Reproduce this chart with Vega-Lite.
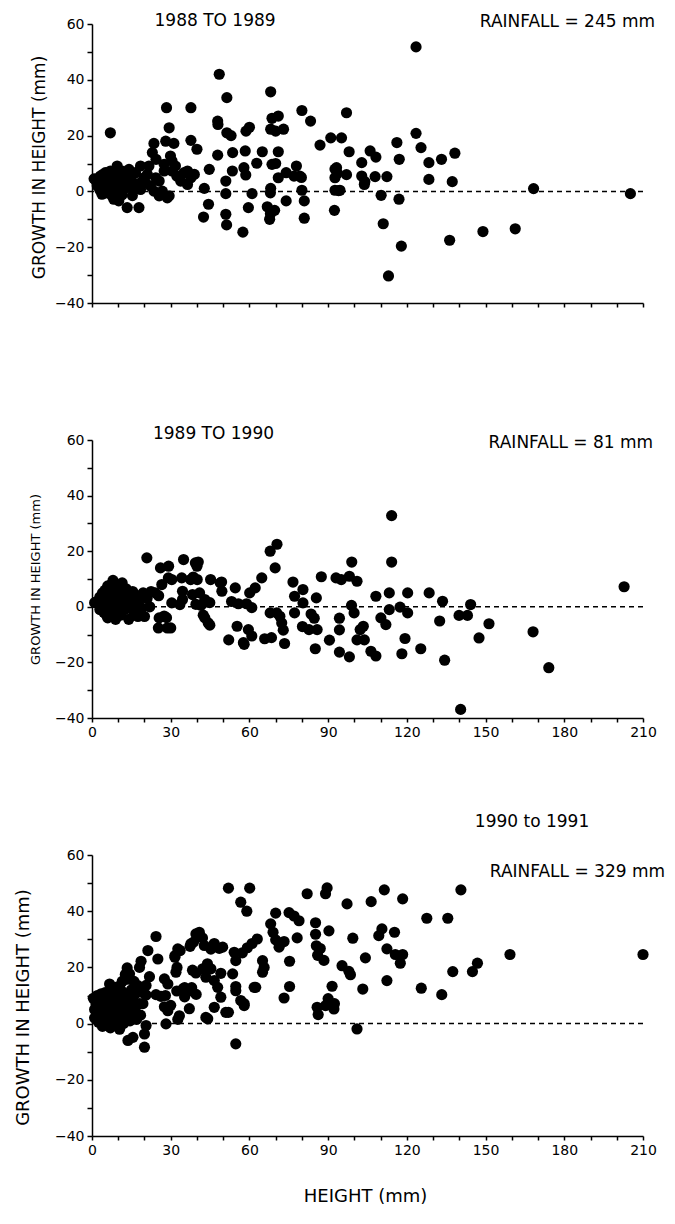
{
  "$schema": "https://vega.github.io/schema/vega-lite/v6.json",
  "padding": {"left": 14, "top": 11, "right": 5, "bottom": 5},
  "bounds": "flush",
  "spacing": 137,
  "config": {
    "view": {"stroke": null},
    "font": "DejaVu Sans",
    "axis": {"domainColor": "black", "domainWidth": 1.5, "tickColor": "black", "tickWidth": 1.5, "tickSize": 5, "labelColor": "black", "titleColor": "black", "labelFont": "DejaVu Sans", "titleFont": "DejaVu Sans", "titleFontWeight": "normal", "grid": false, "labelFontSize": 14, "labelFlush": false, "labelBound": false, "labelOverlap": false},
    "text": {"font": "DejaVu Sans", "fontSize": 17, "color": "black", "align": "center", "baseline": "middle"}
  },
  "datasets": {
    "p1": [
      {"h":0.8,"g":4.5},{"h":1.3,"g":4.3},{"h":1.9,"g":3.1},{"h":2,"g":2},{"h":2.5,"g":4},{"h":3,"g":0.5},{"h":3.2,"g":5.5},{"h":3.8,"g":0},{"h":3.8,"g":-1},{"h":4,"g":6},{"h":4.5,"g":2.5},{"h":5,"g":3},{"h":5.1,"g":6.7},{"h":5.5,"g":5},{"h":5.7,"g":-0.5},{"h":6,"g":5},{"h":6.4,"g":3.7},{"h":6.4,"g":1.3},{"h":7,"g":7.3},{"h":7,"g":21},{"h":7.5,"g":2},{"h":7.6,"g":-1.5},{"h":8,"g":6},{"h":8.3,"g":4.9},{"h":8.3,"g":-2.8},{"h":9,"g":4},{"h":9.6,"g":9.1},{"h":9.6,"g":0.7},{"h":10.2,"g":3.1},{"h":10.2,"g":-3.4},{"h":10.5,"g":5.5},{"h":11,"g":2},{"h":11.5,"g":7.3},{"h":11.5,"g":-1.2},{"h":12.1,"g":4.9},{"h":12.8,"g":1.3},{"h":13,"g":5.5},{"h":13.4,"g":-5.8},{"h":14,"g":3.7},{"h":14.1,"g":7.9},{"h":15,"g":4},{"h":15.4,"g":-1.5},{"h":16,"g":1.3},{"h":16.6,"g":6.7},{"h":17,"g":2.5},{"h":17.9,"g":-5.8},{"h":18.5,"g":9.1},{"h":18.5,"g":3.1},{"h":18.5,"g":0.7},{"h":19.8,"g":4.9},{"h":20.4,"g":3.1},{"h":21.1,"g":6.1},{"h":21.7,"g":9.1},{"h":22.3,"g":1.9},{"h":23,"g":13.9},{"h":23.6,"g":17.2},{"h":23.6,"g":0.1},{"h":24.3,"g":4.9},{"h":24.4,"g":11.5},{"h":25.6,"g":3.7},{"h":25.6,"g":-1.6},{"h":26.8,"g":0.1},{"h":27.5,"g":7.3},{"h":27.5,"g":9.7},{"h":28.1,"g":18},{"h":28.4,"g":30},{"h":28.7,"g":-2.3},{"h":29.4,"g":22.8},{"h":29.4,"g":-1.6},{"h":29.9,"g":12.7},{"h":30.5,"g":10.9},{"h":30.5,"g":7.3},{"h":31.2,"g":17.2},{"h":31.8,"g":9.1},{"h":32.3,"g":5.5},{"h":33.8,"g":3.7},{"h":35.1,"g":6.7},{"h":36.4,"g":7.3},{"h":36.4,"g":2.5},{"h":37.7,"g":4.9},{"h":37.7,"g":30},{"h":37.7,"g":18.3},{"h":39,"g":6.1},{"h":40,"g":15.1},
      {"h":42.5,"g":-9.2},{"h":42.8,"g":1.1},{"h":44.4,"g":-4.6},{"h":44.7,"g":7.9},{"h":47.9,"g":25.2},{"h":48,"g":24},{"h":47.9,"g":13},{"h":48.5,"g":42},{"h":51.4,"g":33.6},{"h":51.4,"g":21},{"h":53,"g":20},{"h":53.6,"g":13.9},{"h":53.5,"g":7.3},{"h":51,"g":3.7},{"h":51,"g":-0.8},{"h":51,"g":-8.2},{"h":51.3,"g":-12},{"h":57.5,"g":-14.6},{"h":58.4,"g":14.5},{"h":58.7,"g":21.6},{"h":60,"g":23},{"h":57.9,"g":8.5},{"h":58.6,"g":5.9},{"h":61,"g":-0.8},{"h":59.6,"g":-5.8},{"h":62.8,"g":10.1},{"h":64.9,"g":14.2},{"h":68.1,"g":35.7},{"h":68.6,"g":26.2},{"h":71,"g":27},{"h":68.1,"g":22.3},{"h":70,"g":21.6},{"h":73,"g":22.3},{"h":71,"g":14.2},{"h":68.6,"g":9.7},{"h":70,"g":10},{"h":71,"g":4.9},{"h":68.1,"g":1.1},{"h":68,"g":-0.5},{"h":66.8,"g":-5.5},{"h":69.6,"g":-6.8},{"h":67.7,"g":-10},{"h":68,"g":-8},{"h":74,"g":6.7},{"h":74,"g":-3.4},{"h":77,"g":5.5},{"h":77.9,"g":9.1},{"h":79.2,"g":5.5},{"h":79.8,"g":5},{"h":80,"g":0.4},{"h":80.9,"g":-3.4},{"h":80.9,"g":-9.6},{"h":80,"g":29},{"h":83.3,"g":25.2},{"h":86.9,"g":16.6},{"h":91,"g":19.2},{"h":92.6,"g":8},{"h":92.6,"g":4.9},{"h":92.6,"g":0.4},{"h":92.4,"g":-6.8},{"h":94,"g":0.3},{"h":93.5,"g":6.5},
      {"h":95.1,"g":19.2},{"h":97,"g":28.2},{"h":98,"g":14.2},{"h":93.2,"g":8.5},{"h":97,"g":6},{"h":94.5,"g":0.4},{"h":102.8,"g":10.3},{"h":102.8,"g":5.5},{"h":103.8,"g":2.5},{"h":104,"g":3.5},{"h":106,"g":14.5},{"h":108.2,"g":12.3},{"h":107.9,"g":5.3},{"h":112.4,"g":5.3},{"h":110.2,"g":-1.4},{"h":111,"g":-11.6},{"h":113,"g":-30.3},{"h":116.2,"g":17.5},{"h":117.1,"g":11.5},{"h":117,"g":-2.8},{"h":117.9,"g":-19.6},{"h":123.5,"g":51.8},{"h":123.5,"g":20.8},{"h":125.4,"g":15.7},{"h":128.4,"g":10.3},{"h":128.4,"g":4.3},{"h":133.2,"g":11.5},{"h":136.3,"g":-17.5},{"h":137.3,"g":3.5},{"h":138.3,"g":13.7},{"h":149,"g":-14.4},{"h":161.3,"g":-13.4},{"h":168.3,"g":1.0},{"h":205.2,"g":-0.8}
    ],
    "p2": [
      {"h":1,"g":1.5},{"h":2,"g":2},{"h":3,"g":3.5},{"h":3,"g":-1},{"h":3.5,"g":0.5},{"h":4,"g":5},{"h":4.5,"g":-2},{"h":5,"g":6},{"h":5,"g":2.5},{"h":5.5,"g":-3},{"h":6,"g":7.5},{"h":6,"g":-4},{"h":6.5,"g":0},{"h":6.5,"g":7.4},{"h":7,"g":4},{"h":7.5,"g":8},{"h":8,"g":-1.5},{"h":8,"g":9.5},{"h":8.5,"g":2},{"h":8.5,"g":8.6},{"h":9,"g":6},{"h":9,"g":-4.5},{"h":9.5,"g":3},{"h":10,"g":0},{"h":10.5,"g":5.5},{"h":11,"g":-3},{"h":11.5,"g":8.6},{"h":12,"g":2},{"h":12.5,"g":-1},{"h":13,"g":4.5},{"h":13,"g":6.5},{"h":14,"g":-4.5},{"h":14.5,"g":1},{"h":15,"g":3.5},{"h":15.5,"g":5.5},{"h":16,"g":-2},{"h":16.5,"g":0.5},{"h":17,"g":4},{"h":17.5,"g":-3.5},{"h":18,"g":2.5},{"h":19,"g":-0.5},{"h":19.5,"g":5},{"h":20,"g":-3.5},{"h":20.9,"g":17.6},{"h":21,"g":3},{"h":22,"g":0},{"h":22.5,"g":5.5},
      {"h":24.1,"g":5},{"h":25.4,"g":4},{"h":25.6,"g":-4},{"h":25.3,"g":-7.6},{"h":26.1,"g":14},{"h":26.6,"g":8},{"h":27.5,"g":-3.3},{"h":28.4,"g":-3.9},{"h":28.7,"g":-7.6},{"h":29.1,"g":10.4},{"h":29.2,"g":14.6},{"h":30,"g":-7.6},{"h":30.4,"g":9.8},{"h":30.4,"g":1.4},{"h":33.5,"g":0.8},{"h":34.2,"g":10.4},{"h":34.5,"g":5.6},{"h":34.5,"g":2.6},{"h":34.9,"g":17},{"h":37.6,"g":9.8},{"h":38.3,"g":4.4},{"h":38.6,"g":10.7},{"h":39.4,"g":15.8},{"h":39.6,"g":0.9},{"h":40,"g":14.6},{"h":40.1,"g":9.8},{"h":40.5,"g":16.1},{"h":41,"g":5},{"h":41.5,"g":0.5},{"h":42.4,"g":-3},{"h":43,"g":2.6},{"h":43,"g":-4},{"h":44.3,"g":-5.8},{"h":44.9,"g":-6.6},{"h":44.9,"g":1.5},{"h":45.2,"g":9.8},{"h":48.9,"g":8.6},{"h":49.5,"g":5.6},{"h":49.4,"g":8.9},{"h":53.2,"g":1.9},{"h":54.6,"g":6.8},{"h":55.3,"g":-7},{"h":55.8,"g":1.1},{"h":52.1,"g":-11.9},{"h":57.7,"g":-12.9},{"h":58.9,"g":1.1},{"h":58,"g":-13.5},{"h":59.6,"g":-8.2},{"h":60.1,"g":5},{"h":60.9,"g":-0.3},{"h":60.9,"g":-10.5},{"h":62.2,"g":6.8},{"h":64.7,"g":10.4},{"h":65.8,"g":-11.5},{"h":67.9,"g":20},{"h":68.4,"g":-11.1},{"h":67.9,"g":-2.2},{"h":69.8,"g":14},{"h":70.4,"g":-2.2},{"h":70.5,"g":22.5},{"h":71.6,"g":-3.4},{"h":72.3,"g":-5.8},{"h":72.9,"g":-8.4},{"h":73.4,"g":-13.2},{"h":76.6,"g":8.9},{"h":77.2,"g":3.8},{"h":77.2,"g":-2.2},{"h":80.4,"g":6.2},{"h":80.4,"g":1.4},{"h":80.2,"g":-7.1},{"h":82.7,"g":-8.2},{"h":83.5,"g":-2.6},{"h":84.7,"g":-4.1},{"h":85.1,"g":-15.1},{"h":85.5,"g":3.2},{"h":85.8,"g":-8.2},{"h":87.4,"g":10.8},{"h":90.5,"g":-12},{"h":93,"g":10.4},{"h":94.3,"g":-4.1},{"h":94.3,"g":-8.3},{"h":94.3,"g":-16.3},{"h":95,"g":9.8},{"h":98.1,"g":-18},{"h":98.1,"g":11},{"h":99,"g":16.1},{"h":98.9,"g":0.5},{"h":99.9,"g":-2.2},{"h":101,"g":9.2},{"h":101,"g":-11.9},{"h":102.2,"g":-8.2},{"h":103.4,"g":-7},{"h":103.8,"g":-11.9},{"h":106.3,"g":-16},{"h":108.2,"g":-17.7},{"h":108.2,"g":3.8},{"h":110.1,"g":-4},{"h":112,"g":-6.4},{"h":113.3,"g":5},{"h":113.3,"g":-1},{"h":114.2,"g":32.8},{"h":114.2,"g":16.1},{"h":117.4,"g":-0.1},{"h":118.1,"g":-16.9},{"h":119.3,"g":-11.4},{"h":120.3,"g":5},{"h":120.3,"g":-2.2},{"h":125.3,"g":-15.1},{"h":128.5,"g":5},{"h":132.5,"g":-5.1},{"h":133.6,"g":2},{"h":134.4,"g":-19.2},{"h":139.9,"g":-3.1},{"h":140.5,"g":-36.9},{"h":143.1,"g":-3.1},{"h":144.3,"g":0.8},{"h":147.5,"g":-11.2},{"h":151.3,"g":-6.1},{"h":168.1,"g":-9},{"h":174.1,"g":-21.9},{"h":202.8,"g":7.2}
    ],
    "p3": [
      {"h":0.5,"g":9},{"h":1,"g":5},{"h":1,"g":2},{"h":1.5,"g":7},{"h":2,"g":10},{"h":2,"g":3.5},{"h":2.3,"g":8.9},{"h":2.5,"g":0.5},{"h":3,"g":6},{"h":3,"g":1.5},{"h":3.5,"g":10.6},{"h":3.5,"g":4},{"h":4,"g":8},{"h":4,"g":-1},{"h":4.5,"g":2.5},{"h":5,"g":6.5},{"h":5,"g":11},{"h":5.5,"g":0},{"h":5.5,"g":4.5},{"h":6,"g":9},{"h":6.5,"g":2},{"h":6.7,"g":14.1},{"h":7,"g":6},{"h":7,"g":-1.5},{"h":7.5,"g":11},{"h":8,"g":3.5},{"h":8.6,"g":11.7},{"h":8.5,"g":8},{"h":9,"g":0.5},{"h":9,"g":5},{"h":9.5,"g":13},{"h":10,"g":2},{"h":10,"g":9.5},{"h":10.5,"g":-2},{"h":10.5,"g":6.5},{"h":11,"g":12},{"h":11,"g":4},{"h":11.5,"g":15},{"h":12,"g":0},{"h":12,"g":8},{"h":12.7,"g":17.5},{"h":13,"g":3},{"h":13,"g":10},{"h":13.4,"g":19.8},{"h":13.6,"g":15.8},{"h":13.7,"g":-6},{"h":14,"g":6},{"h":14.3,"g":17.7},{"h":14.5,"g":1},{"h":15,"g":12},{"h":15.6,"g":-4.9},{"h":15.5,"g":8.5},{"h":16,"g":4},{"h":16,"g":15},{"h":16.5,"g":10.5},{"h":17,"g":1.5},{"h":17,"g":6.5},{"h":17.5,"g":13.5},{"h":18.1,"g":20},{"h":18.1,"g":7.1},{"h":18.5,"g":3},{"h":18.7,"g":22.2},{"h":19.4,"g":7.1},{"h":19.5,"g":11},{"h":20,"g":-3.7},{"h":20.6,"g":-0.7},{"h":20.6,"g":10.2},{"h":20,"g":-8.4},{"h":20.6,"g":13.6},{"h":21.3,"g":26},{"h":21.9,"g":16.7},
      {"h":24.4,"g":31},{"h":24.4,"g":10.3},{"h":25.1,"g":23},{"h":26.3,"g":9.7},{"h":27.6,"g":15.9},{"h":27.6,"g":6},{"h":28,"g":10},{"h":28.2,"g":-0.1},{"h":28.9,"g":4.6},{"h":28.9,"g":14.1},{"h":30,"g":6.5},{"h":31.6,"g":23.6},{"h":31.6,"g":24.2},{"h":32,"g":18.3},{"h":32.3,"g":11.6},{"h":32.4,"g":20},{"h":32.7,"g":26.6},{"h":32.7,"g":1.5},{"h":33.3,"g":2.8},{"h":33.6,"g":26},{"h":34.8,"g":12.5},{"h":35.3,"g":9.5},{"h":35.3,"g":12.8},{"h":37.1,"g":5.3},{"h":37.2,"g":11.6},{"h":37.4,"g":27.5},{"h":37.7,"g":28.4},{"h":38,"g":12.8},{"h":38.3,"g":19},{"h":38.7,"g":29},{"h":39.6,"g":18},{"h":39.7,"g":10.4},{"h":39.6,"g":31.9},{"h":40.9,"g":32.5},{"h":42.1,"g":30.5},{"h":42.2,"g":19.5},{"h":42.8,"g":27.8},{"h":43.4,"g":16.5},{"h":43.4,"g":2.2},{"h":43.5,"g":20},{"h":44,"g":21.3},{"h":44.1,"g":1.7},{"h":45.3,"g":26.5},{"h":45.3,"g":19.5},{"h":46.6,"g":28.5},{"h":46.6,"g":15.3},{"h":46.6,"g":5.8},{"h":47.9,"g":12.9},{"h":48.5,"g":26.8},{"h":49.1,"g":17.9},{"h":49.1,"g":9.4},{"h":49.8,"g":27.2},{"h":51,"g":4},{"h":52,"g":48.2},{"h":52,"g":4},{"h":53.6,"g":17.7},{"h":54.2,"g":25.4},{"h":54.8,"g":22.4},{"h":54.8,"g":13.2},{"h":54.8,"g":11.7},{"h":54.8,"g":-7.2},{"h":56.7,"g":43.2},{"h":56.7,"g":8.2},{"h":57.3,"g":25.2},{"h":58,"g":6.4},{"h":58,"g":7.1},{"h":59,"g":40},{"h":59.2,"g":27},{"h":60.1,"g":48.2},{"h":61,"g":28.5},{"h":61.8,"g":12.9},{"h":62.4,"g":12.9},{"h":63,"g":30.1},{"h":65,"g":22.4},{"h":65.6,"g":20},{"h":65,"g":18.3},{"h":68.1,"g":35.5},{"h":69,"g":32.5},{"h":70,"g":39.3},{"h":70,"g":29.8},{"h":71.3,"g":27.2},{"h":73.2,"g":29.2},{"h":73.2,"g":9.1},{"h":75.1,"g":39.5},{"h":75.3,"g":22.2},{"h":75.3,"g":13.2},{"h":77,"g":38.3},{"h":78.2,"g":30.5},{"h":78.9,"g":36.6},{"h":82,"g":46.2},{"h":85.2,"g":35.9},{"h":85.2,"g":31.8},{"h":85.5,"g":27.7},{"h":86,"g":24.3},{"h":85.8,"g":5.8},{"h":86.2,"g":3.2},{"h":87,"g":26.7},{"h":88.4,"g":22.5},{"h":89,"g":6.4},{"h":89.6,"g":48.3},{"h":89,"g":46.2},{"h":90.3,"g":33},{"h":90,"g":8.9},{"h":91.5,"g":13.3},{"h":92.4,"g":7.1},{"h":92.2,"g":5.2},{"h":95.3,"g":20.6},{"h":97.2,"g":42.6},{"h":97.9,"g":18.6},{"h":98.5,"g":17.4},{"h":99.4,"g":30.4},{"h":101,"g":-1.9},{"h":103.2,"g":12.3},{"h":104.2,"g":23.4},{"h":106.4,"g":43.4},{"h":109.3,"g":31.3},{"h":110.5,"g":33.7},{"h":111.4,"g":47.6},{"h":112.4,"g":26.6},{"h":112.4,"g":15.3},{"h":115.3,"g":32.5},{"h":115.6,"g":24.6},{"h":117.5,"g":21.5},{"h":118.4,"g":24.6},{"h":118.4,"g":44.4},{"h":125.5,"g":12.6},{"h":127.6,"g":37.5},{"h":133.3,"g":10.3},{"h":135.6,"g":37.5},{"h":137.5,"g":18.5},{"h":140.6,"g":47.6},{"h":145,"g":18.5},{"h":146.9,"g":21.5},{"h":159.3,"g":24.6},{"h":210,"g":24.6}
    ],
    "t1": [{"h":46.9,"g":61.1,"label":"1988 TO 1989"},{"h":181.2,"g":60.7,"label":"RAINFALL = 245 mm"}],
    "t2": [{"h":46.3,"g":62,"label":"1989 TO 1990"},{"h":182.5,"g":59.1,"label":"RAINFALL = 81 mm"}],
    "t3": [{"h":167.7,"g":71.7,"label":"1990 to 1991"},{"h":185,"g":54.1,"label":"RAINFALL = 329 mm"}],
    "zero": [{"g":0}]
  },
  "vconcat": [
    {
      "width": 551, "height": 279,
      "layer": [
        {"data": {"name": "zero"}, "mark": {"type": "rule", "strokeDash": [5, 4], "strokeWidth": 1.5, "color": "black"},
         "encoding": {"y": {"field": "g", "type": "quantitative", "scale": {"domain": [-40, 60], "nice": false}, "axis": {"title": "GROWTH IN HEIGHT (mm)", "tickCount": 10, "labelExpr": "datum.value % 20 === 0 ? datum.label : ''", "tickSize": 5, "labelPadding": 3, "titleFontSize": 17, "titleX": -53, "titleY": 143, "titleAngle": -90, "titleAlign": "center", "titleBaseline": "middle"}}}},
        {"data": {"name": "p1"}, "mark": {"type": "circle", "size": 125, "color": "black", "opacity": 1},
         "encoding": {
           "x": {"field": "h", "type": "quantitative", "scale": {"domain": [0, 210], "nice": false},
                 "axis": {"title": null, "tickCount": 21, "labels": false, "tickSize": 4}},
           "y": {"field": "g", "type": "quantitative", "scale": {"domain": [-40, 60], "nice": false},
                 "axis": {"title": "GROWTH IN HEIGHT (mm)", "tickCount": 10, "labelExpr": "datum.value % 20 === 0 ? datum.label : ''", "tickSize": 5, "labelPadding": 3, "titleFontSize": 17, "titleX": -53, "titleY": 143, "titleAngle": -90, "titleAlign": "center", "titleBaseline": "middle"}}
         }},
        {"data": {"name": "t1"}, "mark": {"type": "text"},
         "encoding": {"x": {"field": "h", "type": "quantitative"}, "y": {"field": "g", "type": "quantitative"}, "text": {"field": "label"}}}
      ]
    },
    {
      "width": 551, "height": 278,
      "layer": [
        {"data": {"name": "zero"}, "mark": {"type": "rule", "strokeDash": [5, 4], "strokeWidth": 1.5, "color": "black"},
         "encoding": {"y": {"field": "g", "type": "quantitative", "scale": {"domain": [-40, 60], "nice": false}, "axis": {"title": "GROWTH IN HEIGHT (mm)", "tickCount": 10, "labelExpr": "datum.value % 20 === 0 ? datum.label : ''", "tickSize": 5, "labelPadding": 3, "titleFontSize": 13, "titleX": -57, "titleY": 139, "titleAngle": -90, "titleAlign": "center", "titleBaseline": "middle"}}}},
        {"data": {"name": "p2"}, "mark": {"type": "circle", "size": 125, "color": "black", "opacity": 1},
         "encoding": {
           "x": {"field": "h", "type": "quantitative", "scale": {"domain": [0, 210], "nice": false},
                 "axis": {"title": null, "tickCount": 21, "labelExpr": "datum.value % 30 === 0 ? datum.label : ''", "labelPadding": 3, "tickSize": 4}},
           "y": {"field": "g", "type": "quantitative", "scale": {"domain": [-40, 60], "nice": false},
                 "axis": {"title": "GROWTH IN HEIGHT (mm)", "tickCount": 10, "labelExpr": "datum.value % 20 === 0 ? datum.label : ''", "tickSize": 5, "labelPadding": 3, "titleFontSize": 13, "titleX": -57, "titleY": 139, "titleAngle": -90, "titleAlign": "center", "titleBaseline": "middle"}}
         }},
        {"data": {"name": "t2"}, "mark": {"type": "text"},
         "encoding": {"x": {"field": "h", "type": "quantitative"}, "y": {"field": "g", "type": "quantitative"}, "text": {"field": "label"}}}
      ]
    },
    {
      "width": 551, "height": 281,
      "layer": [
        {"data": {"name": "zero"}, "mark": {"type": "rule", "strokeDash": [5, 4], "strokeWidth": 1.5, "color": "black"},
         "encoding": {"y": {"field": "g", "type": "quantitative", "scale": {"domain": [-40, 60], "nice": false}, "axis": {"title": "GROWTH IN HEIGHT (mm)", "tickCount": 10, "labelExpr": "datum.value % 20 === 0 ? datum.label : ''", "tickSize": 5, "labelPadding": 3, "titleFontSize": 18, "titleX": -69, "titleY": 152, "titleAngle": -90, "titleAlign": "center", "titleBaseline": "middle"}}}},
        {"data": {"name": "p3"}, "mark": {"type": "circle", "size": 125, "color": "black", "opacity": 1},
         "encoding": {
           "x": {"field": "h", "type": "quantitative", "scale": {"domain": [0, 210], "nice": false},
                 "axis": {"title": "HEIGHT (mm)", "tickCount": 21, "labelExpr": "datum.value % 30 === 0 ? datum.label : ''", "labelPadding": 3, "tickSize": 4, "titleFontSize": 18, "titleX": 273, "titleY": 60, "titleAlign": "center", "titleBaseline": "middle"}},
           "y": {"field": "g", "type": "quantitative", "scale": {"domain": [-40, 60], "nice": false},
                 "axis": {"title": "GROWTH IN HEIGHT (mm)", "tickCount": 10, "labelExpr": "datum.value % 20 === 0 ? datum.label : ''", "tickSize": 5, "labelPadding": 3, "titleFontSize": 18, "titleX": -69, "titleY": 152, "titleAngle": -90, "titleAlign": "center", "titleBaseline": "middle"}}
         }},
        {"data": {"name": "t3"}, "mark": {"type": "text"},
         "encoding": {"x": {"field": "h", "type": "quantitative"}, "y": {"field": "g", "type": "quantitative"}, "text": {"field": "label"}}}
      ]
    }
  ]
}
